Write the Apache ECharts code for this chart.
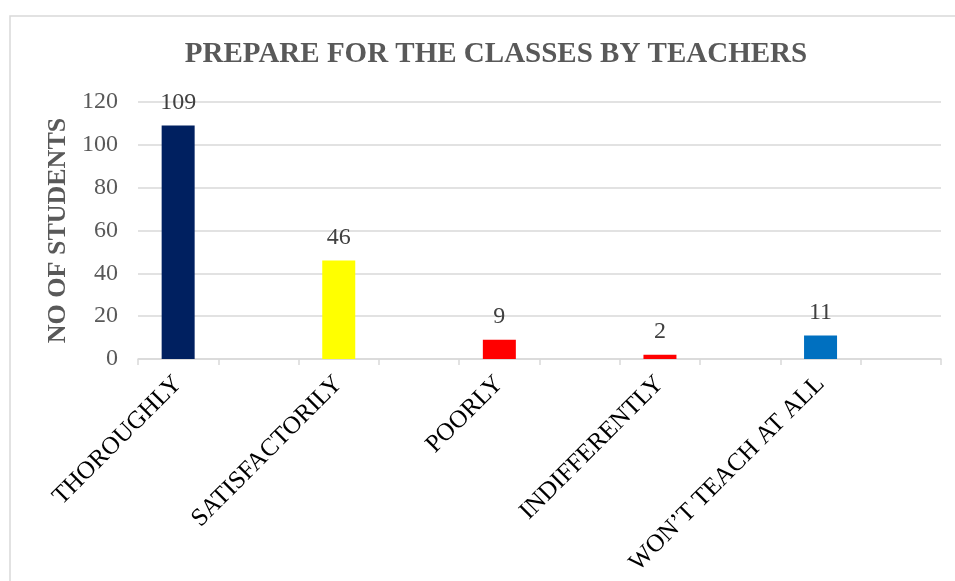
<!DOCTYPE html>
<html>
<head>
<meta charset="utf-8">
<script src="https://cdn.jsdelivr.net/npm/echarts@6/dist/echarts.min.js"></script>
<style>
html,body{margin:0;padding:0;background:#fff;}
#chart{width:955px;height:581px;}
</style>
</head>
<body>
<div id="chart"></div>
<script>
// Data (blank slots are the empty category rows of the original sheet)
var categories = ['THOROUGHLY', '', 'SATISFACTORILY', '', 'POORLY', '', 'INDIFFERENTLY', '', 'WON\u2019T TEACH AT ALL', ''];
var studentCounts = [109, null, 46, null, 9, null, 2, null, 11, null];
var barColors = ['#002060', '#ffffff', '#FFFF00', '#ffffff', '#FF0000', '#ffffff', '#FF0000', '#ffffff', '#0070C0', '#ffffff'];
var yTicks = { min: 0, max: 120, interval: 20 };
var titleText = 'PREPARE FOR THE CLASSES BY TEACHERS';
var yAxisName = 'NO OF STUDENTS';

var serif = '"Liberation Serif", "Times New Roman", serif';
var chart = echarts.init(document.getElementById('chart'), null, { renderer: 'canvas' });

var barData = studentCounts.map(function (v, i) {
  return { value: v, itemStyle: { color: barColors[i] } };
});

chart.setOption({
  animation: false,
  backgroundColor: '#ffffff',
  graphic: [{
    type: 'rect',
    shape: { x: 10, y: 16, width: 1000, height: 700 },
    style: { fill: 'none', stroke: '#d9d9d9', lineWidth: 1.5 },
    silent: true
  }],
  title: {
    text: titleText,
    left: 491,
    textAlign: 'center',
    top: 35,
    textStyle: { fontFamily: serif, fontSize: 29, fontWeight: 'bold', color: '#595959' }
  },
  grid: { left: 138, right: 14, top: 102, bottom: 222, containLabel: false },
  xAxis: {
    type: 'category',
    data: categories,
    axisLine: { lineStyle: { color: '#d9d9d9', width: 1.5 } },
    axisTick: { show: true, length: 6, alignWithLabel: false, interval: 0, lineStyle: { color: '#d9d9d9', width: 1.5 } },
    axisLabel: {
      interval: 0,
      rotate: 45,
      margin: 21,
      fontFamily: serif,
      fontSize: 25,
      color: '#000000'
    },
    splitLine: { show: false }
  },
  yAxis: {
    type: 'value',
    min: yTicks.min,
    max: yTicks.max,
    interval: yTicks.interval,
    name: yAxisName,
    nameLocation: 'middle',
    nameGap: 66,
    nameRotate: 90,
    nameTextStyle: { fontFamily: serif, fontSize: 26, fontWeight: 'bold', color: '#595959' },
    axisLine: { show: false },
    axisTick: { show: false },
    axisLabel: { fontFamily: serif, fontSize: 24, color: '#595959', margin: 20 },
    splitLine: { lineStyle: { color: '#d9d9d9', width: 1.5 } }
  },
  series: [{
    type: 'bar',
    data: barData,
    barWidth: 33,
    label: {
      show: true,
      position: 'top',
      distance: 11,
      fontFamily: serif,
      fontSize: 24,
      color: '#404040'
    }
  }]
});
</script>
</body>
</html>
